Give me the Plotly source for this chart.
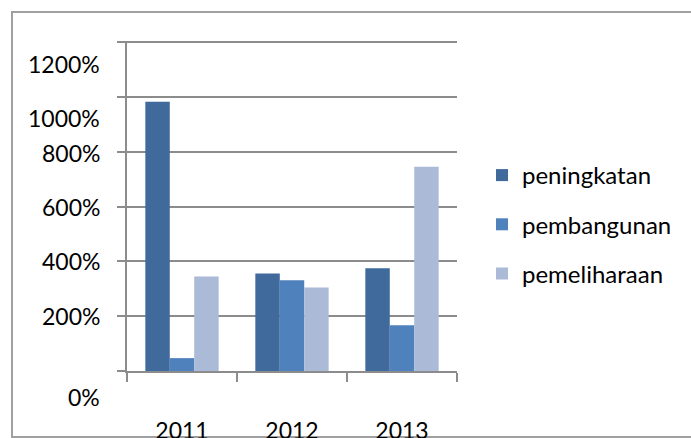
import plotly.graph_objects as go

years = ["2011", "2012", "2013"]
peningkatan = [982, 356, 375]
pembangunan = [47, 331, 167]
pemeliharaan = [345, 305, 745]
series_names = ["peningkatan", "pembangunan", "pemeliharaan"]
series_colors = ["#3F6A9B", "#4F81BD", "#AABAD7"]
ytick_vals = [0, 200, 400, 600, 800, 1000, 1200]
ytick_text = ["0%", "200%", "400%", "600%", "800%", "1000%", "1200%"]

W, H = 691, 438
L, R, T, B = 127, 457, 41, 371
FONT = "Lato, Carlito, Calibri, sans-serif"

fig = go.Figure()
for name, vals, col in zip(series_names, [peningkatan, pembangunan, pemeliharaan], series_colors):
    fig.add_trace(go.Bar(x=years, y=vals, name=name, marker=dict(color=col, line=dict(width=0)),
                         legendgroup=name))

# label vertical offsets (px, downward) reproducing the reference placement
label_shift = {0: 26, 200: 0, 400: 0, 600: 0, 800: 1, 1000: 21, 1200: 22}
for v, t in zip(ytick_vals, ytick_text):
    fig.add_annotation(x=0, xref="paper", xanchor="right", xshift=-25,
                       y=v, yref="y", yanchor="middle", yshift=-label_shift[v],
                       text=t, showarrow=False, font=dict(family=FONT, size=23, color="#000000"))

pw = R - L
ph = B - T
# outer border
fig.add_shape(type="rect", xref="paper", yref="paper",
              x0=(12 - L) / pw, x1=(W + 5 - L) / pw,
              y0=(B - 437) / ph, y1=(B - 12) / ph,
              line=dict(color="#A0A0A0", width=2), fillcolor="rgba(0,0,0,0)", layer="below")

fig.update_layout(
    width=W, height=H,
    margin=dict(l=L, r=W - R, t=T, b=H - B, pad=0, autoexpand=False),
    paper_bgcolor="white", plot_bgcolor="white",
    barmode="group", bargap=1.5 / 4.5, bargroupgap=0,
    showlegend=True,
    legend=dict(x=(482 - L) / pw, xanchor="left", y=(B - 153) / ph, yanchor="top",
                font=dict(family=FONT, size=24, color="#000000"),
                traceorder="grouped", tracegroupgap=15, bgcolor="rgba(0,0,0,0)"),
    font=dict(family=FONT, color="#000000"),
    xaxis=dict(type="category", showgrid=False, showline=True, linecolor="#8C8C8C", linewidth=2,
               ticks="outside", tickson="boundaries", ticklen=9, tickwidth=2, tickcolor="#8C8C8C",
               tickfont=dict(family=FONT, size=23, color="#000000"), ticklabelstandoff=38,
               automargin=False),
    yaxis=dict(range=[0, 1204], tickvals=ytick_vals, showticklabels=False,
               showgrid=True, gridcolor="#8C8C8C", gridwidth=2,
               showline=True, linecolor="#8C8C8C", linewidth=2, automargin=False,
               ticks="outside", ticklen=8, tickwidth=2, tickcolor="#8C8C8C", zeroline=False),
)

fig.write_html("out.html", config={"displayModeBar": False},
               post_script="document.body.style.margin='0';document.body.style.overflow='hidden';")
